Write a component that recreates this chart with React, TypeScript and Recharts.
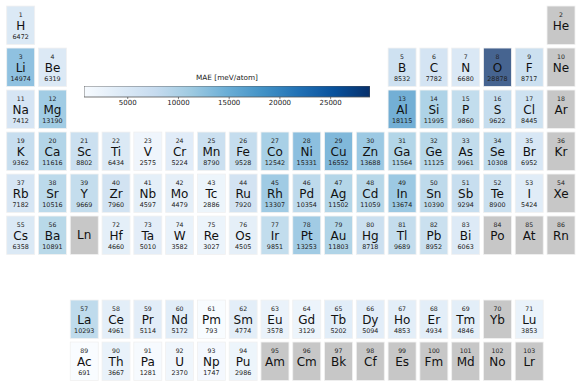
import React from 'react';
import { ScatterChart, Scatter, XAxis, YAxis, ReferenceArea } from 'recharts';

// Element symbols, Z = 1..103
const symbols = [
  'H','He','Li','Be','B','C','N','O','F','Ne','Na','Mg','Al','Si','P','S','Cl','Ar','K','Ca',
  'Sc','Ti','V','Cr','Mn','Fe','Co','Ni','Cu','Zn','Ga','Ge','As','Se','Br','Kr','Rb','Sr','Y','Zr',
  'Nb','Mo','Tc','Ru','Rh','Pd','Ag','Cd','In','Sn','Sb','Te','I','Xe','Cs','Ba','La','Ce','Pr','Nd',
  'Pm','Sm','Eu','Gd','Tb','Dy','Ho','Er','Tm','Yb','Lu','Hf','Ta','W','Re','Os','Ir','Pt','Au','Hg',
  'Tl','Pb','Bi','Po','At','Rn','Fr','Ra','Ac','Th','Pa','U','Np','Pu','Am','Cm','Bk','Cf','Es','Fm',
  'Md','No','Lr',
];

// MAE [meV/atom], Z = 1..103 (null = no data)
const maeValues: (number | null)[] = [
  6472, null, 14974, 6319, 8532, 7782, 6680, 28878, 8717, null,
  7412, 13190, 18115, 11995, 9860, 9622, 8445, null, 9362, 11616,
  8802, 6434, 2575, 5224, 8790, 9528, 12542, 15331, 16552, 13688,
  11564, 11125, 9961, 10308, 6952, null, 7182, 10516, 9669, 7960,
  4597, 4479, 2886, 7920, 13307, 10354, 11502, 11059, 13674, 10390,
  9294, 8900, 5424, null, 6358, 10891, 10293, 4961, 5114, 5172,
  793, 4774, 3578, 3129, 5202, 5094, 4853, 4934, 4846, null,
  3853, 4660, 5010, 3582, 3027, 4505, 9851, 13253, 11803, 8718,
  9689, 8952, 6063, null, null, null, null, null, 691, 3667,
  1281, 2370, 1747, 2986, null, null, null, null, null, null,
  null, null, null,
];

const colorbarTicks = [5000, 10000, 15000, 20000, 25000];
const colorbarTitle = 'MAE [meV/atom]';

const bluesStops = ['#f7fbff', '#deebf7', '#c6dbef', '#9ecae1', '#6baed6', '#4292c6', '#2171b5', '#08519c', '#08306b'];

const hexToRgb = (h: string) => [1, 3, 5].map((i) => parseInt(h.slice(i, i + 2), 16));
const blues = (t: number) => {
  const tt = Math.max(0, Math.min(1, t)) * (bluesStops.length - 1);
  const i = Math.min(Math.floor(tt), bluesStops.length - 2);
  const f = tt - i;
  const a = hexToRgb(bluesStops[i]);
  const b = hexToRgb(bluesStops[i + 1]);
  const c = a.map((v, k) => Math.round(v + (b[k] - v) * f));
  return `rgb(${c[0]},${c[1]},${c[2]})`;
};

const present = maeValues.filter((v): v is number => v !== null);
const vmin = Math.min(...present);
const vmax = Math.max(...present);

// periodic table layout: [row, col] for Z (null = not shown)
const layout = (z: number): [number, number] | null => {
  if (z === 1) return [0, 0];
  if (z === 2) return [0, 17];
  if (z <= 4) return [1, z - 3];
  if (z <= 10) return [1, z - 5 + 12];
  if (z <= 12) return [2, z - 11];
  if (z <= 18) return [2, z - 13 + 12];
  if (z <= 36) return [3, z - 19];
  if (z <= 54) return [4, z - 37];
  if (z <= 56) return [5, z - 55];
  if (z <= 71) return [7, z - 57 + 2];
  if (z <= 86) return [5, z - 72 + 3];
  if (z <= 88) return null;
  return [8, z - 89 + 2];
};

type Cell = { col: number; row: number; sym: string; z: number | null; val: number | null };

const cells: Cell[] = [];
symbols.forEach((sym, i) => {
  const z = i + 1;
  const pos = layout(z);
  if (!pos) return;
  cells.push({ row: pos[0], col: pos[1], sym, z, val: maeValues[i] });
});
cells.push({ row: 5, col: 2, sym: 'Ln', z: null, val: null });

const W = 581;
const H = 388;
const M = { left: 4.8, right: 4.1, top: 4.25, bottom: 5.75 };
const slotW = (W - M.left - M.right) / 18;
const slotH = (H - M.top - M.bottom) / 9;
const cellW = slotW * 0.88;
const cellH = slotH * 0.915;
const FONT = '"DejaVu Sans", sans-serif';

const CellShape = (props: any) => {
  const { cx, cy, payload } = props;
  const p = payload as Cell;
  const hasVal = p.val !== null;
  const fill = hasVal ? blues((p.val! - vmin) / (vmax - vmin)) : '#c4c4c4';
  return (
    <g>
      <rect
        x={cx - cellW / 2}
        y={cy - cellH / 2}
        width={cellW}
        height={cellH}
        fill={fill}
        fillOpacity={hasVal ? 0.75 : 0.95}
        stroke="#f0f0f0"
        strokeWidth={0.8}
      />
      {p.z !== null && (
        <text x={cx} y={cy - 10.8} textAnchor="middle" dominantBaseline="central" fontSize={6.2} fill="#222" fontFamily={FONT}>
          {p.z}
        </text>
      )}
      <text
        x={cx}
        y={p.z === null ? cy : cy + 0.5}
        textAnchor="middle"
        dominantBaseline="central"
        fontSize={12}
        fill="#111"
        fontFamily={FONT}
      >
        {p.sym}
      </text>
      {hasVal && (
        <text x={cx} y={cy + 11.8} textAnchor="middle" dominantBaseline="central" fontSize={6.4} fill="#222" fontFamily={FONT}>
          {p.val}
        </text>
      )}
    </g>
  );
};

const cbarStops = Array.from({ length: 17 }, (_, i) => i / 16);

export default function App() {
  return (
    <div style={{ position: 'absolute', left: 0, top: 0, width: W, height: H, background: '#fff' }}>
      <ScatterChart width={W} height={H} margin={M}>
        <XAxis type="number" dataKey="col" domain={[-0.5, 17.5]} hide />
        <YAxis type="number" dataKey="row" domain={[-0.5, 8.5]} reversed hide />
        <Scatter data={cells} shape={CellShape} isAnimationActive={false} />
      </ScatterChart>

      <div
        style={{
          position: 'absolute',
          left: 84,
          top: 73,
          width: 286,
          textAlign: 'center',
          fontFamily: FONT,
          fontSize: 7.3,
          color: '#222',
        }}
      >
        {colorbarTitle}
      </div>

      <div style={{ position: 'absolute', left: 84.3, top: 86 }}>
        <ScatterChart width={286} height={31} margin={{ top: 0, right: 0, bottom: 0, left: 0 }}>
          <defs>
            <linearGradient id="cbarGrad" x1="0" y1="0" x2="1" y2="0">
              {cbarStops.map((t) => (
                <stop key={t} offset={t} stopColor={blues(t)} />
              ))}
            </linearGradient>
          </defs>
          <XAxis
            type="number"
            dataKey="v"
            domain={[vmin, vmax]}
            ticks={colorbarTicks}
            height={20}
            axisLine={false}
            tickSize={2}
            tickMargin={1}
            tickLine={{ stroke: '#333', strokeWidth: 0.6 }}
            tick={{ fontSize: 7, fill: '#222', fontFamily: FONT }}
            allowDataOverflow
          />
          <YAxis type="number" dataKey="y" domain={[0, 1]} hide />
          <ReferenceArea x1={vmin} x2={vmax} y1={0} y2={1} fill="url(#cbarGrad)" fillOpacity={1} stroke="#555" strokeWidth={0.8} />
          <Scatter data={[{ v: vmin, y: 0.5 }, { v: vmax, y: 0.5 }]} shape={() => <g />} isAnimationActive={false} />
        </ScatterChart>
      </div>
    </div>
  );
}
